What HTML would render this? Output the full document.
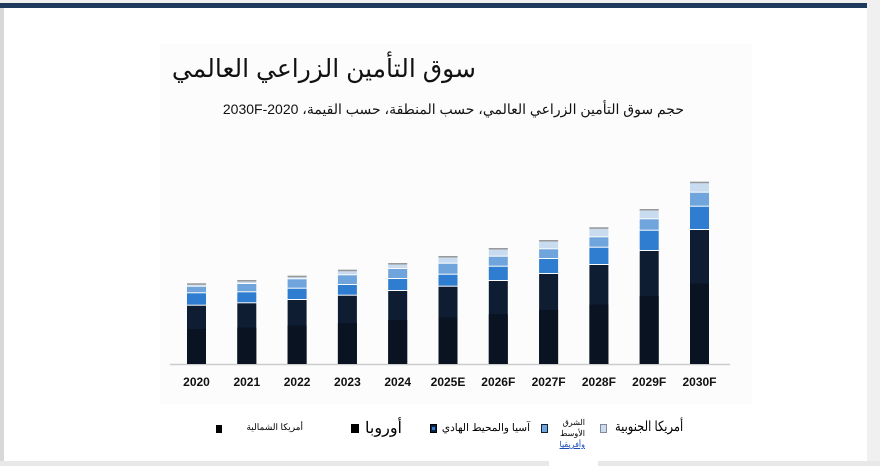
<!DOCTYPE html>
<html><head><meta charset="utf-8"><style>
body{margin:0;width:880px;height:466px;background:#fff;position:relative;overflow:hidden;font-family:"Liberation Sans","Noto Sans CJK SC",sans-serif}
.t{position:absolute;white-space:nowrap}
</style></head><body>
<div style="position:absolute;left:0;top:0;width:880px;height:3px;background:#f0f0f0"></div>
<div style="position:absolute;left:0;top:3px;width:868px;height:5px;background:#1f3a5f"></div>
<div style="position:absolute;left:0;top:8px;width:4px;height:458px;background:#d8d8d8"></div>
<div style="position:absolute;left:867px;top:0;width:13px;height:466px;background:#f0f0f0"></div>
<div style="position:absolute;left:0;top:461px;width:880px;height:5px;background:#e8e8e8"></div>
<div style="position:absolute;left:160px;top:44px;width:592px;height:360px;background:#fcfcfc"></div>
<div class="t" style="right:404px;top:54px;font-size:25px;color:#111;direction:rtl">سوق التأمين الزراعي العالمي</div>
<div class="t" style="right:196px;top:101px;font-size:14px;color:#111;direction:rtl">حجم سوق التأمين الزراعي العالمي، حسب المنطقة، حسب القيمة، 2020-2030F</div>
<svg style="position:absolute;left:0;top:0" width="880" height="466">
<line x1="170" y1="364.5" x2="730" y2="364.5" stroke="#ccc" stroke-width="1.5"/>
<g id="bars"></g>
</svg>
<script>
var d=[[283.3,286.7,293.3,305.7],[280,284,292.3,303.3],[275.7,279.3,288.7,300],[269.7,275.3,285,295.7],[263,269,279,291],[256,263.7,274.7,286.7],[248,256.7,266.7,281],[240,249.3,259,274],[227.3,237.3,247.7,265],[209,219.3,230.7,251],[181.7,192.7,206.7,230]];
var yrs=["2020","2021","2022","2023","2024","2025E","2026F","2027F","2028F","2029F","2030F"];
var s="";
d.forEach(function(v,i){var x=187+i*50.3,w=19,b=364;
function r(y1,y2,c){s+='<rect x="'+x+'" y="'+y1+'" width="'+w+'" height="'+(y2-y1)+'" fill="'+c+'"/>';}
r(v[0],v[1]-1,"#c8dbef");r(v[1],v[2]-1,"#6fa5dc");r(v[2],v[3]-1,"#2e7dd0");r(v[3],b,"#0f1d33");
var m=v[3]+(b-v[3])*0.4;r(m,b,"#0a1322");
s+='<rect x="'+x+'" y="'+v[0]+'" width="'+w+'" height="1.5" fill="#999"/>';
s+='<text x="'+(x+w/2)+'" y="386" font-size="12" font-weight="bold" text-anchor="middle" fill="#111" font-family="Liberation Sans">'+yrs[i]+'</text>';});
document.getElementById("bars").innerHTML=s;
</script>
<!-- legend -->
<div style="position:absolute;left:216px;top:425px;width:6px;height:8px;background:#000"></div>
<div class="t" style="right:577px;top:422px;font-size:9px;direction:rtl">أمريكا الشمالية</div>
<div style="position:absolute;left:351px;top:424px;width:8px;height:9px;background:#000"></div>
<div class="t" style="right:478px;top:418px;font-size:16px;direction:rtl">أوروبا</div>
<div style="position:absolute;left:430px;top:424px;width:7px;height:9px;background:#0b2240;border:1px solid #000;box-sizing:border-box"><div style="margin:2px 1px;width:3px;height:3px;background:#2e7dd0"></div></div>
<div class="t" style="right:350px;top:422px;font-size:10.5px;direction:rtl">آسيا والمحيط الهادي</div>
<div style="position:absolute;left:541px;top:424px;width:7px;height:9px;background:#6fa5dc;border:1px solid #123;box-sizing:border-box"></div>
<div style="position:absolute;left:549px;top:411px;width:49px;height:55px;background:#fff"></div>
<div class="t" style="right:295px;top:417px;font-size:8px;line-height:11px;text-align:right;direction:rtl">الشرق<br>الأوسط<br><span style="color:#1a4dbb;text-decoration:underline">وأفريقيا</span></div>
<div style="position:absolute;left:600px;top:424px;width:7px;height:9px;background:#c8dbef;border:1px solid #889;box-sizing:border-box"></div>
<div class="t" style="right:197px;top:418px;font-size:14px;direction:rtl;transform:scaleX(0.82);transform-origin:right center">أمريكا الجنوبية</div>
</body></html>
